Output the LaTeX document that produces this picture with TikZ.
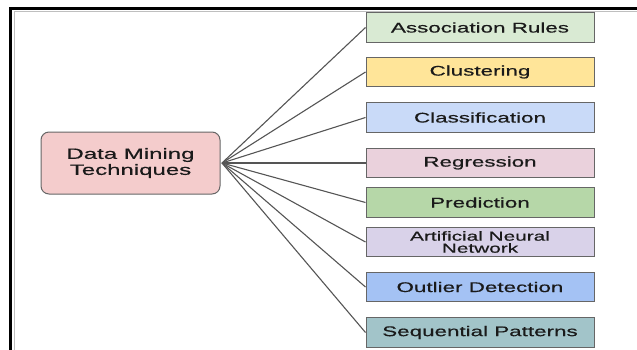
\documentclass[tikz,border=0pt]{standalone}
\usepackage{fontspec}
\setmainfont{Liberation Sans}
\newfontfamily\boxfont[FakeStretch=1.6, FakeBold=0.5]{Liberation Sans}

\definecolor{assocfill}{HTML}{D9EAD3}
\definecolor{clustfill}{HTML}{FFE599}
\definecolor{classfill}{HTML}{C9DAF8}
\definecolor{regrfill}{HTML}{EAD1DC}
\definecolor{predfill}{HTML}{B6D7A8}
\definecolor{annfill}{HTML}{D9D2E9}
\definecolor{outlfill}{HTML}{A4C2F4}
\definecolor{seqfill}{HTML}{A2C4C9}
\definecolor{rootfill}{HTML}{F4CCCC}
\definecolor{edgegray}{HTML}{666666}
\definecolor{spokegray}{HTML}{555555}
\definecolor{textdark}{HTML}{1A1A1A}

\tikzset{
	techbox/.style={draw=edgegray, line width=1pt, minimum width=228pt, minimum height=29.5pt,
		inner sep=0pt, text=textdark, font=\boxfont\fontsize{14}{16}\selectfont, align=center},
	rootbox/.style={draw=edgegray, line width=1pt, rounded corners=8pt, fill=rootfill,
		minimum width=179pt, minimum height=62pt, inner sep=0pt, text=textdark,
		font=\boxfont\fontsize{15}{16}\selectfont, align=center},
	spoke/.style={draw=spokegray, line width=1.1pt},
	frameline/.style={line width=3.8pt, black}
}

\begin{document}
\begin{tikzpicture}[x=1pt, y=-1pt]
		\useasboundingbox (0,0) rectangle (637,349);

		% outer frame, cut off at the right and bottom
		\begin{scope}
			\clip (0,0) rectangle (637,349);
			\draw[black!25, line width=0.8pt] (14,360) -- (14,11.5) -- (650,11.5);
			\draw[frameline] (10.5,360) -- (10.5,8.5) -- (650,8.5);
		\end{scope}

		\node[rootbox] (dmt) at (130.5,163) {Data Mining\\Techniques};
		\coordinate (hub) at (222,163);

		\node[techbox, fill=assocfill] (assoc) at (480,27.5) {Association Rules};
		\node[techbox, fill=clustfill] (clust) at (480,72) {Clustering};
		\node[techbox, fill=classfill] (class) at (480,117.5) {Classification};
		\node[techbox, fill=regrfill] (regr) at (480,163) {Regression};
		\node[techbox, fill=predfill] (pred) at (480,202.5) {Prediction};
		\node[techbox, fill=annfill, font=\boxfont\fontsize{13}{12}\selectfont] (ann) at (480,242) {Artificial Neural\\Network};
		\node[techbox, fill=outlfill] (outl) at (480,287) {Outlier Detection};
		\node[techbox, fill=seqfill] (seq) at (480,332.5) {Sequential Patterns};

		\draw[spoke] (hub) -- (assoc.west);
		\draw[spoke] (hub) -- (clust.west);
		\draw[spoke] (hub) -- (class.west);
		\draw[spoke] (hub) -- (regr.west);
		\draw[spoke] (hub) -- (pred.west);
		\draw[spoke] (hub) -- (ann.west);
		\draw[spoke] (hub) -- (outl.west);
		\draw[spoke] (hub) -- (seq.west);

	\end{tikzpicture}
\end{document}
